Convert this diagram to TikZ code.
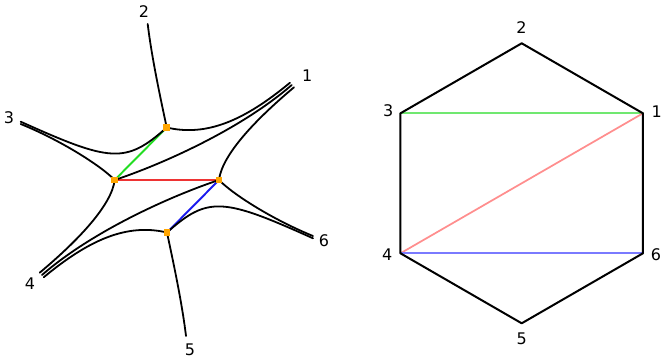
\documentclass[tikz,border=0pt]{standalone}
\usepackage{fontspec}
\setmainfont{DejaVu Sans}
\usepackage{tikz}
\usetikzlibrary{calc}
\definecolor{vertexorange}{HTML}{FFA500}
\definecolor{chordgreen}{HTML}{22DD22}
\definecolor{chordred}{HTML}{EE3333}
\definecolor{chordblue}{HTML}{1A1AEE}
\definecolor{paleGreen}{HTML}{70E870}
\definecolor{paleRed}{HTML}{FF8E8E}
\definecolor{paleBlue}{HTML}{7A7AFF}
\tikzset{
    every picture/.style={line cap=round,line join=round},
    curve/.style={draw=black,line width=1.35pt},
    chord/.style={line width=1.45pt},
    softchord/.style={line width=1.3pt},
    hexedge/.style={draw=black,line width=1.5pt},
    vertexdot/.style={rectangle,fill=vertexorange,minimum size=5pt,inner sep=0pt},
    leglabel/.style={font=\fontsize{12}{14}\selectfont,inner sep=0pt}
}
\begin{document}
\begin{tikzpicture}[x=0.75pt,y=-0.75pt]
  \useasboundingbox (0,0) rectangle (665,360);
  % curve picture
  \coordinate (A) at (166.7,127.5);
  \coordinate (B) at (114.7,180);
  \coordinate (C) at (219,180);
  \coordinate (D) at (167,232.5);
  \coordinate (e1a) at (290,82.7);
  \coordinate (e1b) at (291.7,85);
  \coordinate (e1c) at (294,87.3);
  \coordinate (e2) at (147.7,24);
  \coordinate (e3a) at (20.7,121.7);
  \coordinate (e3b) at (20.7,124);
  \coordinate (e4a) at (39.7,272.7);
  \coordinate (e4b) at (42,275);
  \coordinate (e4c) at (43.7,277.3);
  \coordinate (e5) at (186,336);
  \coordinate (e6a) at (313,236);
  \coordinate (e6b) at (313,238.3);
  \draw[chord,chordgreen] (A) -- (B);
  \draw[chord,chordred] (B) -- (C);
  \draw[chord,chordblue] (C) -- (D);
  \draw[curve] (A) .. controls (162,105) and (152,60) .. (e2);
  \draw[curve] (A) .. controls (207,137) and (245,120) .. (e1a);
  \draw[curve] (A) .. controls (125.7,164.2) and (110.5,162.1) .. (e3a);
  \draw[curve] (B) .. controls (100,165) and (60,140) .. (e3b);
  \draw[curve] (B) .. controls (160,165) and (240,130) .. (e1b);
  \draw[curve] (B) .. controls (111.7,205) and (78.7,240) .. (e4a);
  \draw[curve] (C) .. controls (222,155) and (255,120) .. (e1c);
  \draw[curve] (C) .. controls (233.7,195) and (273.7,220) .. (e6a);
  \draw[curve] (C) .. controls (173.7,195) and (93.7,230) .. (e4b);
  \draw[curve] (D) .. controls (171.7,255) and (181.7,300) .. (e5);
  \draw[curve] (D) .. controls (126.7,223) and (88.7,240) .. (e4c);
  \draw[curve] (D) .. controls (208,195.8) and (223.2,197.9) .. (e6b);
  \foreach \v in {A,B,C,D}
    \node[vertexdot] (dot\v) at (\v) {};
  \node[leglabel] (lab1) at (307.3,76) {1};
  \node[leglabel] (lab2) at (144,11.7) {2};
  \node[leglabel] (lab3) at (9,117.3) {3};
  \node[leglabel] (lab4) at (30,284) {4};
  \node[leglabel] (lab5) at (190,350) {5};
  \node[leglabel] (lab6) at (324,240.7) {6};
  % hexagon
  \coordinate (hc) at (521.7,183.3);
  \foreach \i/\a in {1/-30,2/-90,3/-150,4/150,5/90,6/30}
    \coordinate (h\i) at ($(hc)+(\a:140)$);
  \draw[softchord,paleGreen] (h3) -- (h1);
  \draw[softchord,paleRed] (h4) -- (h1);
  \draw[softchord,paleBlue] (h4) -- (h6);
  \draw[hexedge] (h1) -- (h2) -- (h3) -- (h4) -- (h5) -- (h6) -- cycle;
  \node[leglabel] (hlab1) at (656.7,111.7) {1};
  \node[leglabel] (hlab2) at (521.5,27.8) {2};
  \node[leglabel] (hlab3) at (388.3,110.7) {3};
  \node[leglabel] (hlab4) at (387.3,255) {4};
  \node[leglabel] (hlab5) at (521.7,338.3) {5};
  \node[leglabel] (hlab6) at (656,255) {6};
\end{tikzpicture}
\end{document}
